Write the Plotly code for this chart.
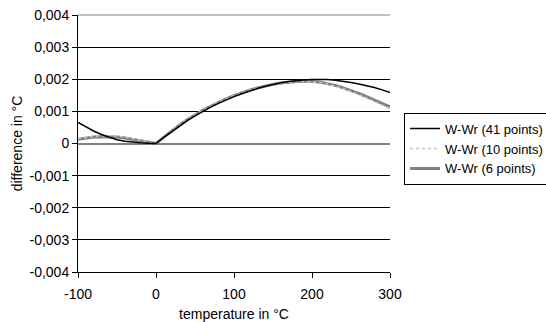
import plotly.graph_objects as go

temps = [-100, -90, -80, -70, -60, -50, -40, -30, -20, -10, 0,
         10, 20, 30, 40, 50, 60, 70, 80, 90, 100,
         110, 120, 130, 140, 150, 160, 170, 180, 190, 200,
         210, 220, 230, 240, 250, 260, 270, 280, 290, 300]

w41 = [0.00066, 0.00052, 0.00039, 0.00028, 0.00019, 0.00012, 0.00007, 0.00004, 0.00002, 0.00001, 0.0,
       0.00019, 0.00037, 0.00055, 0.00071, 0.00086, 0.00100, 0.00113, 0.00125, 0.00136, 0.00146,
       0.00155, 0.00164, 0.00171, 0.00178, 0.00184, 0.00189, 0.00193, 0.00196, 0.00198, 0.00199,
       0.00200, 0.00199, 0.00197, 0.00194, 0.00190, 0.00185, 0.00180, 0.00174, 0.00167, 0.00159]

w10 = [0.00015, 0.00019, 0.00022, 0.00024, 0.00024, 0.00023, 0.00020, 0.00015, 0.00010, 0.00005, 0.0,
       0.00020, 0.00039, 0.00057, 0.00074, 0.00089, 0.00103, 0.00116, 0.00128, 0.00139, 0.00149,
       0.00158, 0.00166, 0.00173, 0.00179, 0.00184, 0.00188, 0.00191, 0.00193, 0.00194, 0.00193,
       0.00190, 0.00185, 0.00179, 0.00171, 0.00162, 0.00153, 0.00142, 0.00131, 0.00120, 0.00108]

w6 = [0.00013, 0.00017, 0.00020, 0.00021, 0.00021, 0.00020, 0.00017, 0.00013, 0.00009, 0.00005, 0.0,
      0.00020, 0.00039, 0.00057, 0.00074, 0.00089, 0.00103, 0.00116, 0.00128, 0.00139, 0.00149,
      0.00158, 0.00166, 0.00173, 0.00179, 0.00184, 0.00188, 0.00191, 0.00193, 0.00194, 0.00194,
      0.00191, 0.00187, 0.00181, 0.00173, 0.00165, 0.00156, 0.00146, 0.00136, 0.00125, 0.00114]

series_names = ["W-Wr (41 points)", "W-Wr (10 points)", "W-Wr (6 points)"]

y_tickvals = [-0.004, -0.003, -0.002, -0.001, 0, 0.001, 0.002, 0.003, 0.004]
y_ticktext = ["-0,004", "-0,003", "-0,002", "-0,001", "0", "0,001", "0,002", "0,003", "0,004"]
x_tickvals = [-100, 0, 100, 200, 300]
x_ticktext = ["-100", "0", "100", "200", "300"]

font = dict(family="Liberation Sans, Arial, sans-serif", size=14, color="black")
legend_font = dict(family="Liberation Sans, Arial, sans-serif", size=13, color="black")

fig = go.Figure()
fig.add_trace(go.Scatter(x=temps, y=w6, mode="lines", name=series_names[2],
                         line=dict(color="#808080", width=3), legendrank=3))
fig.add_trace(go.Scatter(x=temps, y=w10, mode="lines", name=series_names[1],
                         line=dict(color="#c8c8c8", width=1.5, dash="dot"), legendrank=2))
fig.add_trace(go.Scatter(x=temps, y=w41, mode="lines", name=series_names[0],
                         line=dict(color="black", width=1.5), legendrank=1))

fig.update_layout(
    width=546, height=322,
    margin=dict(l=78, r=156, t=15, b=50, autoexpand=False),
    paper_bgcolor="white", plot_bgcolor="white",
    font=font,
    showlegend=True,
    legend=dict(x=1.045, y=0.62, xanchor="left", yanchor="top",
                bordercolor="black", borderwidth=1, bgcolor="white",
                font=legend_font, itemwidth=30, tracegroupgap=0),
    xaxis=dict(range=[-100, 300], tickvals=x_tickvals, ticktext=x_ticktext,
               ticks="outside", ticklen=5, ticklabelstandoff=4,
               tickcolor="black", showline=True, linecolor="black", linewidth=1,
               showgrid=False, zeroline=False,
               title=dict(text="temperature in °C", font=font, standoff=8)),
    yaxis=dict(range=[-0.004, 0.004], tickvals=y_tickvals, ticktext=y_ticktext,
               ticks="outside", ticklen=5, tickcolor="black",
               showline=True, linecolor="black", linewidth=1,
               showgrid=True, gridcolor="black", gridwidth=1,
               zeroline=True, zerolinecolor="#808080", zerolinewidth=2,
               title=dict(text="difference in °C", font=font, standoff=3)),
    shapes=[dict(type="line", xref="paper", yref="paper", x0=0, x1=1, y0=1, y1=1,
                 line=dict(color="#c0c0c0", width=2), layer="above")],
)

fig.write_html("out.html")
